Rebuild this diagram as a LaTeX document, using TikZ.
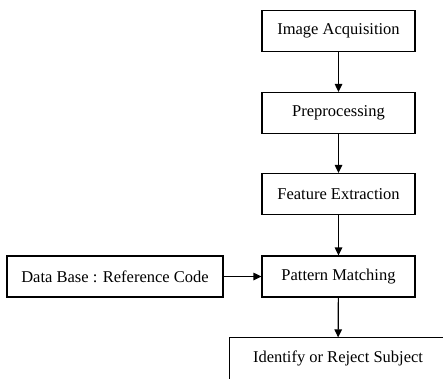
\documentclass[tikz,border=0pt]{standalone}
\usepackage{fontspec}
\setmainfont{Liberation Serif}
\usetikzlibrary{arrows.meta}
\begin{document}
\begin{tikzpicture}[x=1pt,y=-1pt,
  blk/.style={draw=black,line width=1.2pt,minimum height=41pt,inner sep=0pt,
    font=\fontsize{16.5}{20}\selectfont},
  conn/.style={line width=1.2pt,-{Triangle[length=8pt,width=7.5pt]}}]
\useasboundingbox (0,0) rectangle (443,378);
\clip (0,0) rectangle (443,378);
\node[blk,minimum width=153pt] (acq) at (338.5,31) {Image Acquisition};
\node[blk,minimum width=153pt] (pre) at (338.5,113) {Preprocessing};
\node[blk,minimum width=153pt] (fe) at (338.5,194) {Feature Extraction};
\node[blk,minimum width=153pt] (pm) at (338.5,276.5) {Pattern Matching};
\node[blk,minimum width=216pt] (db) at (115,276.5) {Data Base : Reference Code};
\node[blk,draw=none,minimum width=216pt] (id) at (338,358.5) {Identify or Reject Subject};
\draw[line width=1.2pt] ([yshift=-8pt]id.south west) -- (id.north west) -- ([xshift=12pt]id.north east);
\draw[conn] (acq) -- (pre);
\draw[conn] (pre) -- (fe);
\draw[conn] (fe) -- (pm);
\draw[conn] (db) -- (pm);
\draw[conn] (pm) -- (id);
\end{tikzpicture}
\end{document}
